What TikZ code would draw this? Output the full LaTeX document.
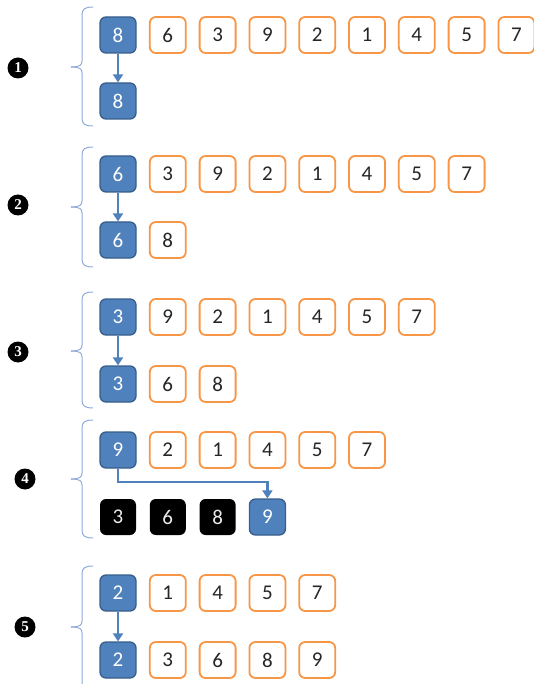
\documentclass[tikz,border=0pt]{standalone}
\usepackage{fontspec}
\setmainfont{Carlito}
\newfontfamily\numfont{Liberation Serif}
\usetikzlibrary{arrows.meta}
\definecolor{boxblue}{HTML}{4F81BD}
\definecolor{boxblueborder}{HTML}{385D8A}
\definecolor{boxorange}{HTML}{F79646}
\definecolor{bracecol}{HTML}{8EAADB}
\newcommand\drawbracket[3]{%
  \draw[brace] (93,#1) .. controls (85,#1) and (82,#1+2) .. (82,#1+8) -- (82,#2-6) .. controls (82,#2-2) and (80,#2) .. (71,#2);
  \draw[brace] (71,#2) .. controls (80,#2) and (82,#2+2) .. (82,#2+6) -- (82,#3-8) .. controls (82,#3-2) and (85,#3) .. (93,#3);
}
\begin{document}
\begin{tikzpicture}[x=1pt,y=-1pt,
  cell/.style={minimum width=36pt, minimum height=36pt, rounded corners=6pt, inner sep=0pt, font=\fontsize{21}{21}\selectfont, line width=1.8pt},
  obox/.style={cell, draw=boxorange, fill=white, text=black!85},
  bbox/.style={cell, draw=boxblueborder, fill=boxblue, text=white, line width=1.3pt},
  kbox/.style={cell, fill=black, text=white!92!black},
  conn/.style={draw=boxblue, line width=2.3pt, -{Triangle[width=10pt,length=8pt]}},
  brace/.style={draw=bracecol, line width=1pt},
  stepnum/.style={circle, fill=black, text=white, minimum size=21pt, inner sep=0pt, font=\numfont\fontsize{15}{15}\selectfont\bfseries}
]
\useasboundingbox (0,0) rectangle (534,684);

% ---------- Step 1 ----------
\node[stepnum] (n1) at (18,68) {1};
\drawbracket{7}{67}{126}
\node[bbox] (s1t0) at (118,35) {8};
\foreach \v [count=\i] in {6,3,9,2,1,4,5,7}
  \node[obox] (s1t\i) at ({118+49.8*\i},35) {\v};
\node[bbox] (s1b0) at (118,101) {8};
\draw[conn] (s1t0) -- (s1b0);

% ---------- Step 2 ----------
\node[stepnum] (n2) at (18,205) {2};
\drawbracket{147}{207}{267}
\node[bbox] (s2t0) at (118,174) {6};
\foreach \v [count=\i] in {3,9,2,1,4,5,7}
  \node[obox] (s2t\i) at ({118+49.8*\i},174) {\v};
\node[bbox] (s2b0) at (118,240) {6};
\node[obox] (s2b1) at (167.8,240) {8};
\draw[conn] (s2t0) -- (s2b0);

% ---------- Step 3 ----------
\node[stepnum] (n3) at (18,352) {3};
\drawbracket{292}{351}{408}
\node[bbox] (s3t0) at (118,317) {3};
\foreach \v [count=\i] in {9,2,1,4,5,7}
  \node[obox] (s3t\i) at ({118+49.8*\i},317) {\v};
\node[bbox] (s3b0) at (118,384) {3};
\foreach \v [count=\i] in {6,8}
  \node[obox] (s3b\i) at ({118+49.8*\i},384) {\v};
\draw[conn] (s3t0) -- (s3b0);

% ---------- Step 4 ----------
\node[stepnum] (n4) at (25,479) {4};
\drawbracket{420}{479}{538}
\node[bbox] (s4t0) at (118,450) {9};
\foreach \v [count=\i] in {2,1,4,5,7}
  \node[obox] (s4t\i) at ({118+49.8*\i},450) {\v};
\foreach \v [count=\i from 0] in {3,6,8}
  \node[kbox] (s4b\i) at ({118+49.8*\i},517) {\v};
\node[bbox] (s4b3) at (267.4,517) {9};
\coordinate (bend1) at (118,482);
\coordinate (bend2) at (267.4,482);
\draw[conn] (s4t0.south) -- (bend1) -- (bend2) -- (s4b3.north);

% ---------- Step 5 ----------
\node[stepnum] (n5) at (25,627) {5};
\drawbracket{566}{627}{690}
\node[bbox] (s5t0) at (118,593) {2};
\foreach \v [count=\i] in {1,4,5,7}
  \node[obox] (s5t\i) at ({118+49.8*\i},593) {\v};
\node[bbox] (s5b0) at (118,660) {2};
\foreach \v [count=\i] in {3,6,8,9}
  \node[obox] (s5b\i) at ({118+49.8*\i},660) {\v};
\draw[conn] (s5t0) -- (s5b0);
\end{tikzpicture}
\end{document}
